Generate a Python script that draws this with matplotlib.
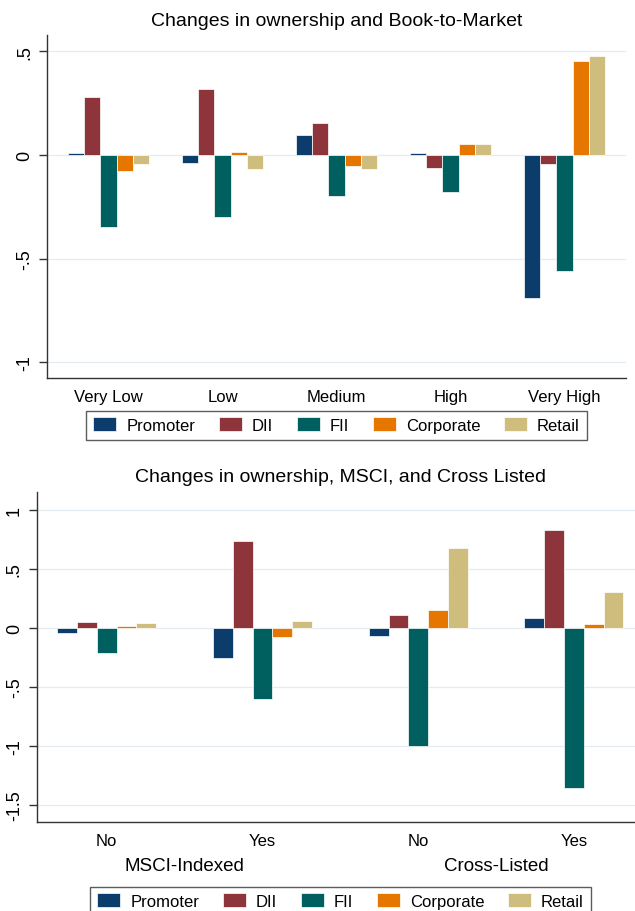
import matplotlib
matplotlib.use("Agg")
import matplotlib.pyplot as plt
import numpy as np
from matplotlib.patches import Patch

plt.rcParams['font.family'] = ['Liberation Sans', 'DejaVu Sans']

# series and colours
series = ['Promoter', 'DII', 'FII', 'Corporate', 'Retail']
colors = ['#0c3c6c', '#8e353b', '#005f5f', '#e57600', '#cfbd7e']

# top panel: Book-to-Market quintiles
btm_groups = ['Very Low', 'Low', 'Medium', 'High', 'Very High']
btm_promoter = [0.01, -0.04, 0.097, 0.007, -0.69]
btm_dii = [0.28, 0.32, 0.153, -0.063, -0.042]
btm_fii = [-0.35, -0.30, -0.20, -0.18, -0.56]
btm_corporate = [-0.077, 0.015, -0.053, 0.055, 0.453]
btm_retail = [-0.045, -0.07, -0.068, 0.053, 0.477]

# bottom panel: MSCI-indexed and cross-listed
ms_groups = ['No', 'Yes', 'No', 'Yes']
ms_super = ['MSCI-Indexed', 'Cross-Listed']
ms_promoter = [-0.04, -0.26, -0.073, 0.087]
ms_dii = [0.05, 0.74, 0.113, 0.828]
ms_fii = [-0.21, -0.60, -1.0, -1.356]
ms_corporate = [0.014, -0.079, 0.149, 0.034]
ms_retail = [0.042, 0.054, 0.679, 0.30]

W, H = 635, 912
fig = plt.figure(figsize=(W / 100, H / 100), dpi=100)


def px_axes(x0, y0, x1, y1):
    return fig.add_axes([x0 / W, 1 - y1 / H, (x1 - x0) / W, (y1 - y0) / H])


def style_axes(ax, ticks, labels, ylim, xlim):
    ax.set_ylim(*ylim)
    ax.set_xlim(*xlim)
    ax.set_yticks(ticks)
    ax.set_yticklabels(labels, rotation=90, va='center', fontsize=13)
    ax.tick_params(axis='y', length=6, width=1, pad=4, color='#333333')
    ax.tick_params(axis='x', length=0, pad=8, labelsize=12)
    for s in ['top', 'right']:
        ax.spines[s].set_visible(False)
    for s in ['left', 'bottom']:
        ax.spines[s].set_color('#333333')
        ax.spines[s].set_linewidth(1)
    ax.yaxis.grid(True, color='#e3ecf1', linewidth=0.9)
    ax.set_axisbelow(True)


def draw_bars(ax, vals_list, width):
    n = len(vals_list[0])
    x = np.arange(n)
    for i, (vals, c) in enumerate(zip(vals_list, colors)):
        offs = (i - 2) * width
        ax.bar(x + offs, vals, width=width, color=c, edgecolor='white',
               linewidth=0.5, zorder=3)
    return x


# ---- top panel
ax1 = px_axes(47, 35.7, 626, 379)
x1 = draw_bars(ax1, [btm_promoter, btm_dii, btm_fii, btm_corporate, btm_retail], 0.1424)
style_axes(ax1, [-1, -0.5, 0, 0.5], ['-1', '-.5', '0', '.5'], (-1.076, 0.58), (-0.54, 4.54))
ax1.set_xticks(x1)
ax1.set_xticklabels(btm_groups)
fig.text(336.5 / W, 1 - 22 / H, 'Changes in ownership and Book-to-Market',
         ha='center', va='center', fontsize=14)

handles = [Patch(facecolor=c, edgecolor='white', linewidth=0.5) for c in colors]
leg_kw = dict(ncol=5, loc='center', fontsize=12, frameon=True, fancybox=False,
              handlelength=1.4, handleheight=0.9, handletextpad=0.6,
              columnspacing=1.4, borderpad=0.4, edgecolor='#333333')
leg1 = fig.legend(handles, series, bbox_to_anchor=(336.5 / W, 1 - 426 / H), **leg_kw)
leg1.get_frame().set_linewidth(1)

# ---- bottom panel
ax2 = px_axes(36.7, 493.3, 644, 823.3)
x2 = draw_bars(ax2, [ms_promoter, ms_dii, ms_fii, ms_corporate, ms_retail], 0.127)
style_axes(ax2, [-1.5, -1, -0.5, 0, 0.5, 1], ['-1.5', '-1', '-.5', '0', '.5', '1'],
           (-1.65, 1.15), (-0.45, 3.45))
ax2.set_xticks(x2)
ax2.set_xticklabels(ms_groups)
# super labels centred under each pair of groups
for k, lab in enumerate(ms_super):
    xd = 2 * k + 0.5
    xf = ax2.transData.transform((xd, 0))[0] / fig.dpi / fig.get_figwidth()
    fig.text(xf, 1 - 867 / H, lab, ha='center', va='center', fontsize=13.5)
fig.text(340 / W, 1 - 478 / H, 'Changes in ownership, MSCI, and Cross Listed',
         ha='center', va='center', fontsize=14)
leg2 = fig.legend(handles, series, bbox_to_anchor=(340.5 / W, 1 - 902 / H), **leg_kw)
leg2.get_frame().set_linewidth(1)

fig.savefig('out.png', dpi=100)
